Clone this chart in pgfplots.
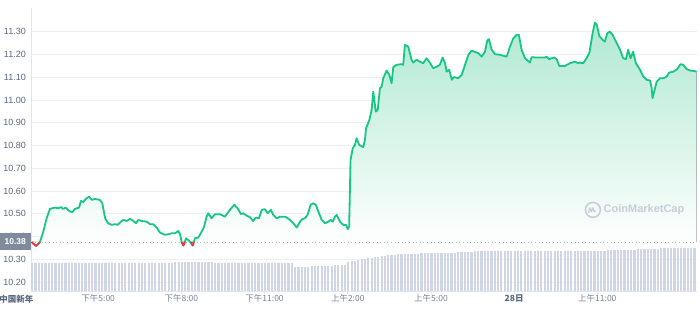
\documentclass[border=0pt]{standalone}
\usepackage{pgfplots}
\pgfplotsset{compat=1.18}
\usepgfplotslibrary{fillbetween}
\usepackage{fontspec}
\setmainfont{Liberation Sans}
\newfontfamily\cjk{Noto Sans CJK SC}
\definecolor{cmcgreen}{RGB}{22,199,132}
\definecolor{cmcred}{RGB}{234,57,67}
\definecolor{gridc}{RGB}{236,239,243}
\definecolor{axc}{RGB}{226,230,236}
\definecolor{labc}{RGB}{88,102,126}
\definecolor{xlabc}{RGB}{120,130,150}
\definecolor{volc}{RGB}{208,214,230}
\definecolor{fillc}{RGB}{176,233,210}
\definecolor{boxc}{RGB}{128,138,157}
\definecolor{dotc}{RGB}{170,178,195}
\definecolor{wmc}{RGB}{200,205,216}

\pgfplotstableread{
h p
0.60 10.375
0.76 10.358
0.90 10.375
1.02 10.421
1.14 10.480
1.26 10.521
1.44 10.527
1.56 10.524
1.66 10.529
1.74 10.521
1.83 10.527
1.95 10.512
2.07 10.507
2.16 10.521
2.31 10.527
2.38 10.556
2.46 10.551
2.55 10.565
2.67 10.575
2.77 10.561
2.88 10.565
3.06 10.561
3.15 10.546
3.25 10.480
3.36 10.458
3.49 10.451
3.61 10.454
3.70 10.451
3.82 10.465
3.91 10.473
4.03 10.468
4.15 10.477
4.27 10.468
4.36 10.458
4.45 10.473
4.57 10.468
4.75 10.465
4.87 10.454
4.99 10.454
5.11 10.439
5.23 10.417
5.41 10.407
5.53 10.410
5.65 10.414
5.77 10.414
5.89 10.424
5.95 10.410
6.01 10.375
6.07 10.360
6.17 10.392
6.29 10.380
6.41 10.360
6.49 10.392
6.61 10.395
6.73 10.421
6.81 10.439
6.91 10.487
6.97 10.502
7.09 10.480
7.21 10.498
7.39 10.498
7.57 10.487
7.75 10.517
7.91 10.539
8.03 10.524
8.15 10.498
8.23 10.502
8.35 10.492
8.47 10.485
8.59 10.468
8.68 10.483
8.80 10.480
8.90 10.517
9.01 10.520
9.11 10.502
9.23 10.517
9.31 10.495
9.44 10.480
9.56 10.487
9.74 10.487
9.92 10.473
10.04 10.458
10.16 10.439
10.28 10.465
10.36 10.476
10.46 10.480
10.55 10.495
10.66 10.539
10.76 10.546
10.85 10.539
10.94 10.509
11.06 10.473
11.18 10.458
11.30 10.465
11.38 10.473
11.46 10.465
11.54 10.487
11.60 10.495
11.72 10.465
11.84 10.451
11.94 10.451
12.00 10.432
12.05 10.443
12.10 10.737
12.18 10.788
12.26 10.803
12.32 10.832
12.41 10.803
12.56 10.793
12.62 10.825
12.66 10.876
12.78 10.913
12.86 10.957
12.92 11.037
13.01 10.949
13.08 10.957
13.16 11.052
13.22 11.059
13.28 11.096
13.40 11.130
13.50 11.111
13.58 11.074
13.64 11.145
13.76 11.155
13.94 11.158
14.00 11.155
14.06 11.243
14.18 11.235
14.30 11.177
14.36 11.165
14.48 11.177
14.60 11.169
14.72 11.162
14.84 11.184
14.96 11.165
15.08 11.140
15.21 11.147
15.32 11.155
15.42 11.187
15.50 11.165
15.57 11.125
15.66 11.133
15.75 11.089
15.83 11.101
15.98 11.096
16.11 11.111
16.23 11.155
16.35 11.199
16.47 11.218
16.59 11.211
16.71 11.206
16.83 11.191
16.95 11.213
17.03 11.262
17.09 11.268
17.19 11.221
17.31 11.202
17.49 11.199
17.73 11.191
17.85 11.235
17.97 11.272
18.09 11.287
18.17 11.287
18.27 11.221
18.39 11.184
18.57 11.165
18.63 11.189
18.81 11.187
19.11 11.187
19.17 11.191
19.26 11.180
19.35 11.184
19.45 11.187
19.53 11.180
19.63 11.150
19.83 11.150
20.01 11.162
20.19 11.169
20.31 11.162
20.37 11.165
20.49 11.162
20.61 11.184
20.71 11.206
20.83 11.294
20.91 11.341
20.98 11.331
21.07 11.282
21.19 11.265
21.27 11.257
21.36 11.294
21.45 11.301
21.55 11.287
21.70 11.250
21.82 11.221
21.93 11.184
22.03 11.180
22.11 11.221
22.20 11.184
22.29 11.213
22.39 11.162
22.54 11.133
22.66 11.103
22.78 11.089
22.90 11.086
22.96 11.052
22.99 11.008
23.08 11.052
23.14 11.081
23.26 11.096
23.38 11.096
23.50 11.103
23.59 11.121
23.74 11.125
23.88 11.136
24.00 11.158
24.10 11.155
24.22 11.136
24.34 11.130
24.48 11.128
24.58 11.125
}\pricetable

\begin{document}
\begin{tikzpicture}
\begin{axis}[
  at={(31pt,18pt)}, anchor=south west,
  scale only axis, width=666pt, height=283pt,
  xmin=0.577, xmax=24.594, ymin=10.16, ymax=11.405,
  set layers, clip mode=individual,
  axis lines*=left,
  axis line style={axc, line width=0.8pt},
  ymajorgrids, grid style={gridc, line width=0.8pt},
  ytick={10.2,10.3,10.4,10.5,10.6,10.7,10.8,10.9,11.0,11.1,11.2,11.3},
  yticklabels={10.20,10.30,10.40,10.50,10.60,10.70,10.80,10.90,11.00,11.10,11.20,11.30},
  ytick style={draw=none},
  yticklabel style={font=\fontsize{9}{10}\selectfont, text=labc, inner sep=1pt, xshift=-1.5pt},
  xtick={3,6,9,12,15,18,21},
  xticklabels={{\cjk 下午5:00},{\cjk 下午8:00},{\cjk 下午11:00},{\cjk 上午2:00},{\cjk 上午5:00},{\cjk\bfseries\color{labc} 28日},{\cjk 上午11:00}},
  tick align=outside, major tick length=2.5pt,
  xtick style={axc, line width=0.8pt},
  xticklabel style={font=\fontsize{8.5}{10}\selectfont, text=xlabc, inner sep=1pt},
]
% volume bars
\addplot[ycomb, line width=2.2pt, color=volc, mark=none] coordinates {
(0.62,10.285)(0.74,10.285)(0.86,10.285)(0.98,10.285)(1.10,10.285)(1.22,10.285)(1.34,10.285)(1.46,10.285)(1.58,10.285)(1.70,10.285)
(1.82,10.285)(1.94,10.285)(2.06,10.285)(2.18,10.285)(2.30,10.285)(2.42,10.285)(2.54,10.285)(2.66,10.285)(2.78,10.285)(2.90,10.285)
(3.02,10.285)(3.14,10.285)(3.26,10.285)(3.38,10.285)(3.50,10.285)(3.62,10.285)(3.74,10.285)(3.86,10.285)(3.98,10.285)(4.10,10.285)
(4.22,10.285)(4.34,10.285)(4.46,10.285)(4.58,10.285)(4.70,10.285)(4.82,10.285)(4.94,10.285)(5.06,10.285)(5.18,10.285)(5.30,10.285)
(5.42,10.285)(5.54,10.285)(5.66,10.285)(5.78,10.289)(5.90,10.289)(6.02,10.289)(6.14,10.289)(6.26,10.289)(6.38,10.289)(6.50,10.289)
(6.62,10.289)(6.74,10.289)(6.86,10.289)(6.98,10.289)(7.10,10.289)(7.22,10.285)(7.34,10.285)(7.46,10.285)(7.58,10.285)(7.70,10.285)
(7.82,10.285)(7.94,10.285)(8.06,10.285)(8.18,10.285)(8.30,10.285)(8.42,10.285)(8.54,10.285)(8.66,10.285)(8.78,10.285)(8.90,10.285)
(9.02,10.285)(9.14,10.285)(9.26,10.285)(9.38,10.285)(9.50,10.285)(9.62,10.285)(9.74,10.285)(9.86,10.285)(9.98,10.285)(10.10,10.267)
(10.22,10.267)(10.34,10.267)(10.46,10.267)(10.58,10.267)(10.70,10.270)(10.82,10.270)(10.94,10.270)(11.06,10.270)(11.18,10.270)(11.30,10.270)
(11.42,10.270)(11.54,10.276)(11.66,10.276)(11.78,10.276)(11.90,10.276)(12.02,10.289)(12.14,10.291)(12.26,10.294)(12.38,10.297)(12.50,10.299)
(12.62,10.301)(12.74,10.304)(12.86,10.306)(12.98,10.309)(13.10,10.311)(13.22,10.313)(13.34,10.315)(13.46,10.317)(13.58,10.319)(13.70,10.320)
(13.82,10.321)(13.94,10.322)(14.06,10.322)(14.18,10.323)(14.30,10.323)(14.42,10.324)(14.54,10.324)(14.66,10.325)(14.78,10.325)(14.90,10.326)
(15.02,10.326)(15.14,10.327)(15.26,10.327)(15.38,10.328)(15.50,10.328)(15.62,10.328)(15.74,10.329)(15.86,10.329)(15.98,10.330)(16.10,10.330)
(16.22,10.331)(16.34,10.332)(16.46,10.333)(16.58,10.334)(16.70,10.335)(16.82,10.335)(16.94,10.336)(17.06,10.335)(17.18,10.335)(17.30,10.335)
(17.42,10.335)(17.54,10.335)(17.66,10.335)(17.78,10.335)(17.90,10.335)(18.02,10.335)(18.14,10.335)(18.26,10.335)(18.38,10.335)(18.50,10.335)
(18.62,10.335)(18.74,10.335)(18.86,10.335)(18.98,10.335)(19.10,10.335)(19.22,10.335)(19.34,10.335)(19.46,10.335)(19.58,10.335)(19.70,10.335)
(19.82,10.335)(19.94,10.335)(20.06,10.335)(20.18,10.335)(20.30,10.335)(20.42,10.335)(20.54,10.335)(20.66,10.335)(20.78,10.338)(20.90,10.338)
(21.02,10.338)(21.14,10.338)(21.26,10.338)(21.38,10.341)(21.50,10.341)(21.62,10.341)(21.74,10.341)(21.86,10.341)(21.98,10.341)(22.10,10.341)
(22.22,10.341)(22.34,10.341)(22.46,10.343)(22.58,10.343)(22.70,10.343)(22.82,10.343)(22.94,10.346)(23.06,10.346)(23.18,10.346)(23.30,10.350)
(23.42,10.350)(23.54,10.350)(23.66,10.350)(23.78,10.350)(23.90,10.350)(24.02,10.350)(24.14,10.350)(24.26,10.350)(24.38,10.350)(24.50,10.350)
};
% reference level 10.38
\addplot[dotc, line width=0.8pt, dash pattern=on 1pt off 2.6pt, mark=none] coordinates {(0.577,10.376) (24.594,10.376)};
\addplot[name path=base, draw=none, mark=none] coordinates {(0.60,10.376) (24.58,10.376)};
% price line
\addplot[name path=price, cmcgreen, line width=1.8pt, line join=round, mark=none] table[x=h, y=p] {\pricetable};
\addplot[top color=fillc, bottom color=white, draw=none, on layer=axis background] fill between[of=price and base];
% red parts below the reference level
\addplot[cmcred, line width=1.8pt, line join=round, mark=none] coordinates {(0.60,10.375)(0.76,10.358)(0.90,10.375)};
\addplot[cmcred, line width=1.8pt, line join=round, mark=none] coordinates {(6.01,10.375)(6.07,10.360)(6.13,10.376)};
\addplot[cmcred, line width=1.8pt, line join=round, mark=none] coordinates {(6.35,10.376)(6.41,10.360)(6.45,10.376)};
% first date label (left of the plot)
\node[font=\cjk\bfseries\fontsize{8.5}{10}\selectfont, text=labc, anchor=north, inner sep=1pt] at (axis cs:0.05,10.16) [yshift=-2.5pt] {中国新年};
% reference box
\node[fill=boxc, text=white, font=\bfseries\fontsize{8.5}{10}\selectfont, anchor=east, minimum width=31pt, minimum height=17pt, inner sep=0pt] at (axis cs:0.577,10.376) {10.38};
% watermark
\draw[wmc, line width=1.6pt] (axis cs:20.84,10.517) circle[radius=7.5pt];
\draw[wmc, line width=1.3pt, line join=round] ([xshift=-4.5pt,yshift=-3pt]axis cs:20.84,10.517) -- ++(1.5pt,5pt) -- ++(1.5pt,-4pt) -- ++(1.5pt,4pt) -- ++(1.5pt,-4pt) -- ++(1.5pt,1pt);
\node[wmc, font=\bfseries\fontsize{11}{12}\selectfont, anchor=west, inner sep=0pt] at (axis cs:21.22,10.517) {CoinMarketCap};
\end{axis}
\pgfresetboundingbox
\useasboundingbox (0pt,0pt) rectangle (700pt,309pt);
\end{tikzpicture}
\end{document}
